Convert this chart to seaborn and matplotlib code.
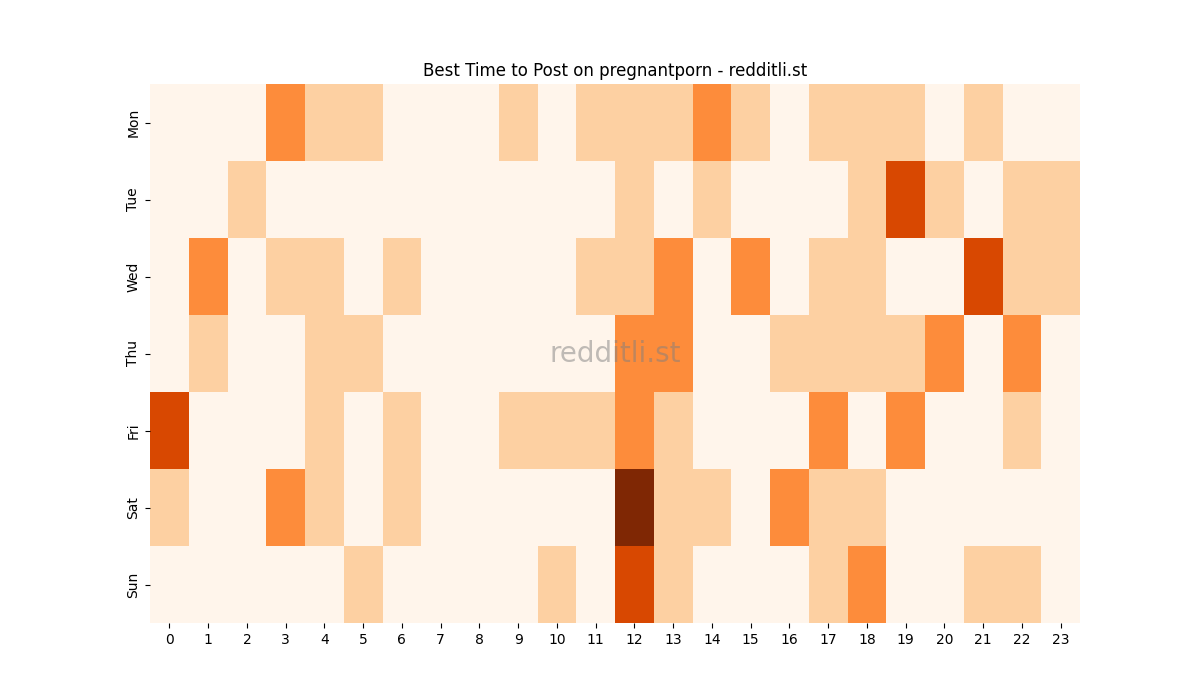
import matplotlib
matplotlib.use("Agg")
import matplotlib.pyplot as plt
import seaborn as sns
import pandas as pd

days = ["Mon", "Tue", "Wed", "Thu", "Fri", "Sat", "Sun"]
hours = list(range(24))

mon = [0, 0, 0, 2, 1, 1, 0, 0, 0, 1, 0, 1, 1, 1, 2, 1, 0, 1, 1, 1, 0, 1, 0, 0]
tue = [0, 0, 1, 0, 0, 0, 0, 0, 0, 0, 0, 0, 1, 0, 1, 0, 0, 0, 1, 3, 1, 0, 1, 1]
wed = [0, 2, 0, 1, 1, 0, 1, 0, 0, 0, 0, 1, 1, 2, 0, 2, 0, 1, 1, 0, 0, 3, 1, 1]
thu = [0, 1, 0, 0, 1, 1, 0, 0, 0, 0, 0, 0, 2, 2, 0, 0, 1, 1, 1, 1, 2, 0, 2, 0]
fri = [3, 0, 0, 0, 1, 0, 1, 0, 0, 1, 1, 1, 2, 1, 0, 0, 0, 2, 0, 2, 0, 0, 1, 0]
sat = [1, 0, 0, 2, 1, 0, 1, 0, 0, 0, 0, 0, 4, 1, 1, 0, 2, 1, 1, 0, 0, 0, 0, 0]
sun = [0, 0, 0, 0, 0, 1, 0, 0, 0, 0, 1, 0, 3, 1, 0, 0, 0, 1, 2, 0, 0, 1, 1, 0]

df = pd.DataFrame([mon, tue, wed, thu, fri, sat, sun], index=days, columns=hours)

fig, ax = plt.subplots(figsize=(12, 7), dpi=100)
sns.heatmap(df, cmap="Oranges", vmin=0, vmax=4, cbar=False, ax=ax)
ax.set_title("Best Time to Post on pregnantporn - redditli.st", fontsize=12)
ax.text(0.5, 0.5, "redditli.st", transform=ax.transAxes, ha="center", va="center",
        fontsize=20, color="grey", alpha=0.5)
ax.set_xlabel("")
ax.set_ylabel("")
plt.savefig("out.png", dpi=100)
